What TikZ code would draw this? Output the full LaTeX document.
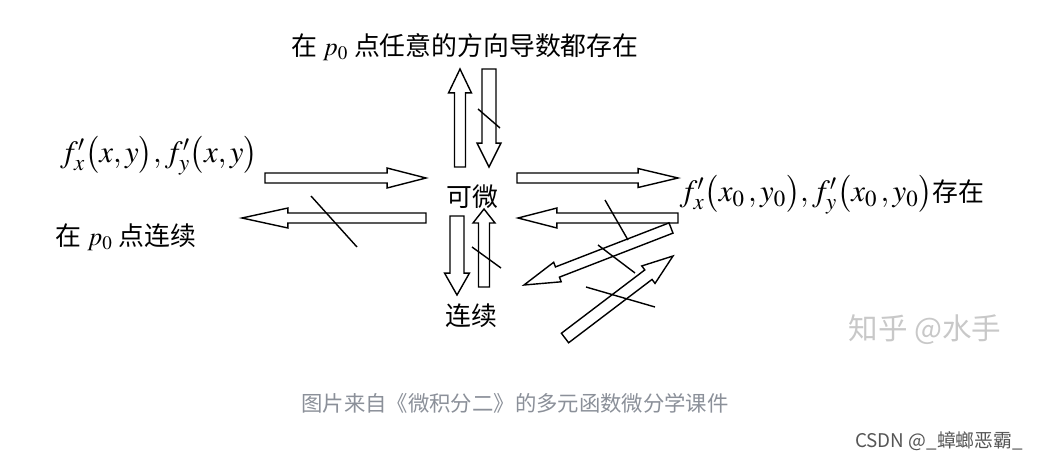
\documentclass[tikz,border=0pt]{standalone}
\usepackage{mathptmx}
\usepackage{fontspec}
\setmainfont{Noto Sans CJK SC}
\usetikzlibrary{calc}
\definecolor{srcgray}{RGB}{139,144,153}
\definecolor{markgray}{RGB}{200,200,200}
\definecolor{csdngray}{RGB}{85,85,85}
\newcommand{\pxu}{0.70866pt}
\newcommand{\bigmath}{\fontsize{22}{26}\selectfont}
\newcommand{\fatarrow}[5]{%
  \coordinate (hb) at ($(#2)!#5*\pxu!(#1)$);
  \draw ($(#1)!#3*\pxu!90:(#2)$) -- ($(hb)!#3*\pxu!90:(#2)$) -- ($(hb)!#4*\pxu!90:(#2)$) -- (#2)
    -- ($(hb)!#4*\pxu!-90:(#2)$) -- ($(hb)!#3*\pxu!-90:(#2)$) -- ($(#1)!#3*\pxu!-90:(#2)$) -- cycle;}

\begin{document}
\begin{tikzpicture}[
  x=0.025cm, y=-0.025cm, line width=1pt, line join=miter,
  txt/.style={inner sep=0pt,font=\fontsize{18.4}{22}\selectfont},
  srcnote/.style={inner sep=0pt,text=srcgray,font=\fontsize{15.2}{18}\selectfont},
  wmark/.style={inner sep=0pt,text=markgray,font=\fontsize{21}{25}\selectfont},
  csdnmark/.style={inner sep=0pt,text=csdngray,font=\fontsize{13.4}{16}\selectfont}
]
  \useasboundingbox (0,0) rectangle (1040,462);
  \node[txt] (dir) at (465,47) {在 $p_0$ 点任意的方向导数都存在};
  \node[txt] (pxy) at (159,156) {\bigmath$f'_x\bigl(x,y\bigr),f'_y\bigl(x,y\bigr)$};
  \node[txt] (cont0) at (126,237) {在 $p_0$ 点连续};
  \node[txt] (diff) at (472,197) {可微};
  \node[txt] (cont) at (471,316) {连续};
  \node[txt,anchor=west] (pxy0) at (679,195) {{\bigmath$f'_x\bigl(x_0\,,y_0\bigr),f'_y\bigl(x_0\,,y_0\bigr)$}存在};
  \node[srcnote] (src) at (515,403) {图片来自《微积分二》的多元函数微分学课件};
  \node[wmark] (zhihu) at (925,330) {知乎 @水手};
  \node[csdnmark] (csdn) at (939,441) {CSDN @\_蟑螂恶霸\_};

  \coordinate (up1s) at (460,167);  \coordinate (up1e) at (460,69);
  \coordinate (dn1s) at (489,69);   \coordinate (dn1e) at (489,167);
  \coordinate (rt1s) at (265,178);  \coordinate (rt1e) at (426,178);
  \coordinate (lt1s) at (426,218);  \coordinate (lt1e) at (242,218);
  \coordinate (dn2s) at (457,216);  \coordinate (dn2e) at (457,295);
  \coordinate (up2s) at (484,287);  \coordinate (up2e) at (484,209);
  \coordinate (rt2s) at (517,178);  \coordinate (rt2e) at (678,178);
  \coordinate (lt2s) at (678,218);  \coordinate (lt2e) at (518,218);
  \coordinate (dg1s) at (671,228);  \coordinate (dg1e) at (524,285);
  \coordinate (dg2s) at (565,338);  \coordinate (dg2e) at (673,256);

  \fatarrow{up1s}{up1e}{5.5}{11.5}{24}
  \fatarrow{dn1s}{dn1e}{7}{12}{24}
  \fatarrow{rt1s}{rt1e}{5}{10}{39}
  \fatarrow{lt1s}{lt1e}{5}{10}{46}
  \fatarrow{dn2s}{dn2e}{7}{12.5}{22}
  \fatarrow{up2s}{up2e}{5.5}{11}{14}
  \fatarrow{rt2s}{rt2e}{5}{9.5}{40}
  \fatarrow{lt2s}{lt2e}{5}{10}{39}
  \fatarrow{dg1s}{dg1e}{5.5}{10.5}{36}
  \fatarrow{dg2s}{dg2e}{6}{11}{31}

  \draw (478,109) -- (500,128);
  \draw (311,196) -- (357,247);
  \draw (472,247) -- (501,268);
  \draw (605,200) -- (628,240);
  \draw (598,245) -- (635,273);
  \draw (586,287) -- (655,307);
\end{tikzpicture}
\end{document}
